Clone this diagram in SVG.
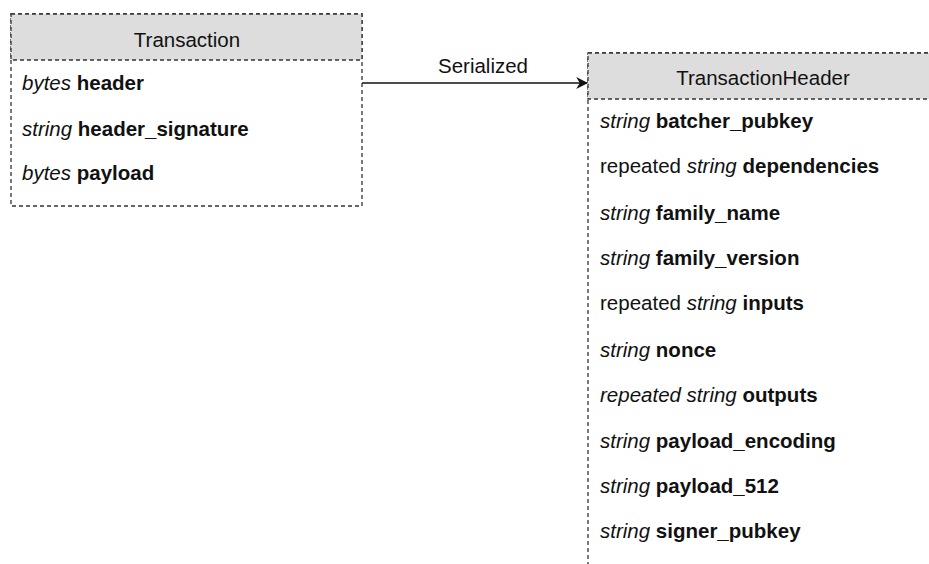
<svg xmlns="http://www.w3.org/2000/svg" width="929" height="564" viewBox="0 0 929 564">
<style>
.box{fill:#fff;stroke:#333;stroke-width:1.3;stroke-dasharray:4 3}
.hdr{fill:#ddd;stroke:#333;stroke-width:1.3;stroke-dasharray:4 3}
text{font-family:"Liberation Sans",Arial,sans-serif;font-size:20.5px;fill:#111}
.t{text-anchor:middle}
.i{font-style:italic}
.b{font-weight:bold}
.edge{stroke:#111;stroke-width:1.3;fill:none}
</style>
<defs>
<marker id="arr" viewBox="0 0 10 10" refX="9" refY="5" markerWidth="12" markerHeight="12" markerUnits="userSpaceOnUse" orient="auto">
<path d="M0,0 L10,5 L0,10 L3,5 Z" fill="#111"/>
</marker>
</defs>
<rect width="929" height="564" fill="#fff"/>
<g id="connectors">
<line class="edge" x1="362" y1="83" x2="587" y2="83" marker-end="url(#arr)"/>
<text class="t" x="483" y="73">Serialized</text>
</g>
<g id="transaction">
<rect class="box" x="11" y="14" width="351" height="192"/>
<rect class="hdr" x="11" y="14" width="351" height="46"/>
<text class="t" x="187" y="47">Transaction</text>
<text x="22" y="90"><tspan class="i">bytes</tspan> <tspan class="b">header</tspan></text>
<text x="22" y="136"><tspan class="i">string</tspan> <tspan class="b">header_signature</tspan></text>
<text x="22" y="180"><tspan class="i">bytes</tspan> <tspan class="b">payload</tspan></text>
</g>
<g id="transactionheader">
<rect class="box" x="588" y="53" width="360" height="530"/>
<rect class="hdr" x="588" y="53" width="360" height="46"/>
<text class="t" x="763" y="85">TransactionHeader</text>
<text x="600" y="128"><tspan class="i">string</tspan> <tspan class="b">batcher_pubkey</tspan></text>
<text x="600" y="173">repeated <tspan class="i">string</tspan> <tspan class="b">dependencies</tspan></text>
<text x="600" y="220"><tspan class="i">string</tspan> <tspan class="b">family_name</tspan></text>
<text x="600" y="265"><tspan class="i">string</tspan> <tspan class="b">family_version</tspan></text>
<text x="600" y="310">repeated <tspan class="i">string</tspan> <tspan class="b">inputs</tspan></text>
<text x="600" y="357"><tspan class="i">string</tspan> <tspan class="b">nonce</tspan></text>
<text x="600" y="402"><tspan class="i">repeated string</tspan> <tspan class="b">outputs</tspan></text>
<text x="600" y="448"><tspan class="i">string</tspan> <tspan class="b">payload_encoding</tspan></text>
<text x="600" y="493"><tspan class="i">string</tspan> <tspan class="b">payload_512</tspan></text>
<text x="600" y="538"><tspan class="i">string</tspan> <tspan class="b">signer_pubkey</tspan></text>
</g>
</svg>
